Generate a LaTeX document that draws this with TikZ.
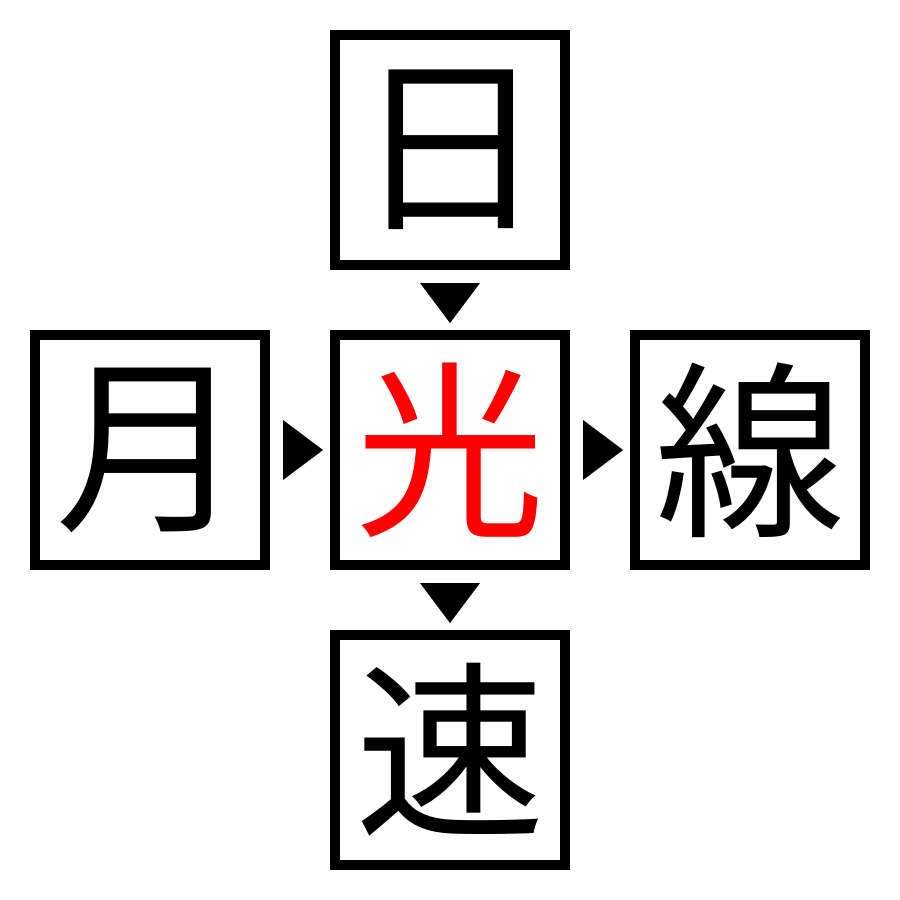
\documentclass[tikz,border=0pt]{standalone}
\usepackage{fontspec}
\newfontfamily\cjk{Noto Sans CJK JP}
\tikzset{
  kbox/.style={draw=black, line width=0.1cm, minimum size=2.3cm, inner sep=0pt, font=\cjk\fontsize{54}{54}\selectfont, text=black},
  tri/.style={fill=black, draw=none}
}
\begin{document}
\begin{tikzpicture}[x=0.01cm,y=-0.01cm]
\useasboundingbox[fill=white] (0,0) rectangle (900,900);
\node[kbox] (top) at (450,150) {日};
\node[kbox, text=red] (mid) at (450,450) {光};
\node[kbox] (left) at (150,450) {月};
\node[kbox] (right) at (750,450) {線};
\node[kbox] (bot) at (450,750) {速};
\fill[tri] (420,283) -- (480,283) -- (450,323) -- cycle;
\fill[tri] (420,583) -- (480,583) -- (450,623) -- cycle;
\fill[tri] (283,420) -- (283,480) -- (323,450) -- cycle;
\fill[tri] (583,420) -- (583,480) -- (623,450) -- cycle;
\end{tikzpicture}
\end{document}
